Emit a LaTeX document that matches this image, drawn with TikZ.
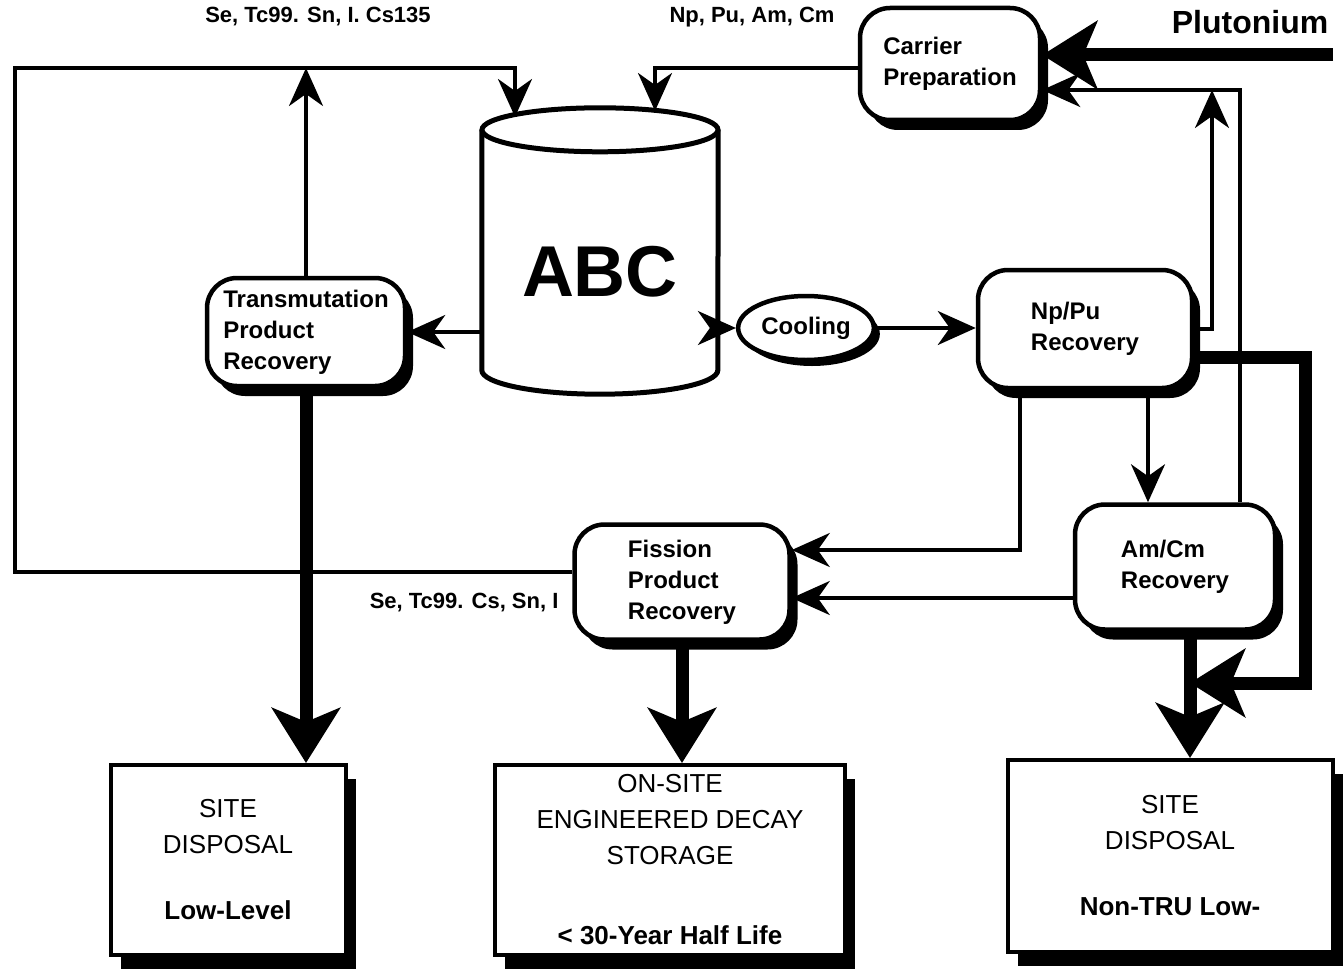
\documentclass[tikz,border=0pt]{standalone}
\usepackage{fontspec}
\setmainfont{Liberation Sans}
\usetikzlibrary{shapes.geometric,arrows.meta,shadows}
\newcommand{\lab}{\fontsize{22}{26}\selectfont\bfseries}
\newcommand{\boxtxt}{\fontsize{24}{31}\selectfont\bfseries}
\newcommand{\sitetxt}{\fontsize{26}{36}\selectfont}

\begin{document}
\begin{tikzpicture}[x=1pt,y=-1pt,
  proc/.style={draw,line width=4.5pt,rounded corners=30pt,fill=white,align=left,font=\boxtxt,
    drop shadow={shadow xshift=8pt,shadow yshift=-10pt,opacity=1,fill=black}},
  sink/.style={draw,line width=4pt,fill=white,align=center,font=\sitetxt,
    drop shadow={shadow xshift=10pt,shadow yshift=-14pt,opacity=1,fill=black}},
  thin/.style={line width=3.5pt,-{Stealth[length=38pt,width=34pt,inset=12pt]}},
  fat/.style={line width=13pt,-{Stealth[length=55pt,width=68pt,inset=14pt]}}]
\useasboundingbox[fill=white] (0,0) rectangle (1343,979);

% boxes
\node (carrier) [proc,minimum width=180pt,minimum height=112pt] at (950,64) {Carrier\\Preparation};
\node (trans) [proc,minimum width=198pt,minimum height=108pt] at (306,332) {Transmutation\\Product\\Recovery};
\node (cool) [ellipse,draw,line width=4.5pt,fill=white,font=\boxtxt,minimum width=122pt,minimum height=64pt,
  drop shadow={shadow xshift=6pt,shadow yshift=-6pt,opacity=1,fill=black}] at (806,328) {Cooling};
\node (nppu) [proc,minimum width=214pt,minimum height=118pt] at (1085,329) {Np/Pu\\Recovery};
\node (amcm) [proc,minimum width=200pt,minimum height=125pt] at (1175,567) {Am/Cm\\Recovery};
\node (fiss) [proc,minimum width=215pt,minimum height=115pt] at (682,582) {Fission\\Product\\Recovery};
\node (site1) [sink,minimum width=235pt,minimum height=190pt] at (228,860) {SITE\\DISPOSAL\\[30pt]\textbf{Low-Level}};
\node (decay) [sink,minimum width=350pt,minimum height=190pt] at (670,860) {ON-SITE\\ENGINEERED DECAY\\STORAGE\\[44pt]\textbf{< 30-Year Half Life}};
\node (site2) [sink,minimum width=325pt,minimum height=192pt] at (1170,856) {SITE\\DISPOSAL\\[30pt]\textbf{Non-TRU Low-}};

% cylinder
\node (abc) [minimum width=236pt,minimum height=240pt] at (600,250) {};
\draw[line width=5pt,fill=white] (abc.north west) -- (abc.south west)
  arc[start angle=180,end angle=0,x radius=118,y radius=24] -- (abc.north east);
\draw[line width=5pt,fill=white] (abc.north) ellipse [x radius=118,y radius=22];
\node[font=\fontsize{72}{80}\selectfont\bfseries] at (600,272) {ABC};

% labels
\node[font=\lab] at (318,17) {Se, Tc99. Sn, I. Cs135};
\node[font=\lab] at (752,17) {Np, Pu, Am, Cm};
\node[font=\fontsize{32}{36}\selectfont\bfseries] at (1250,22) {Plutonium};
\node[font=\lab,anchor=east] at (562,603) {Se, Tc99. Cs, Sn, I};

% corner points
\coordinate (tl) at (15,68);
\coordinate (tr) at (515,68);
\coordinate (bl) at (15,572);
\coordinate (intop) at (515,117);
\coordinate (cl) at (655,68);
\coordinate (intop2) at (655,111);
\coordinate (puin) at (1333,55);
\coordinate (j1) at (1212,90);
\coordinate (j2) at (1240,90);
\coordinate (k1) at (1020,550);
\coordinate (k2) at (1148,0);
\coordinate (k3) at (0,598);
\coordinate (m1) at (1305,357);
\coordinate (m2) at (1305,683);
\coordinate (m3) at (1190,0);

% connectors
\draw[thin] (bl -| fiss.west) -- (bl) -- (tl) -- (tr) -- (intop);
\draw[thin] (trans.north) -- (trans.north |- tl);
\draw[thin] (carrier.west |- cl) -- (cl) -- (intop2);
\draw[thin] (abc.west |- trans.east) -- (trans.east);
\draw[thin] (abc.east |- cool.west) -- (cool.west);
\draw[thin] (cool.east) -- (cool.east -| nppu.west);
\draw[thin] (nppu.east) -- (nppu.east -| j1) -- (j1);
\draw[thin] (amcm.north -| j2) -- (j2) -- (j2 -| carrier.east);
\draw[thin] (nppu.south -| k1) -- (k1) -- (k1 -| fiss.east);
\draw[thin] (nppu.south -| k2) -- (amcm.north -| k2);
\draw[thin] (amcm.west |- k3) -- (k3 -| fiss.east);
\draw[fat] (puin) -- (puin -| carrier.east);
\draw[fat] (nppu.east |- m1) -- (m1) -- (m2) -- (m2 -| m3);
\draw[fat] (trans.south) -- (trans.south |- site1.north);
\draw[fat] (fiss.south) -- (fiss.south |- decay.north);
\draw[fat] (amcm.south -| m3) -- (site2.north -| m3);
\end{tikzpicture}
\end{document}
